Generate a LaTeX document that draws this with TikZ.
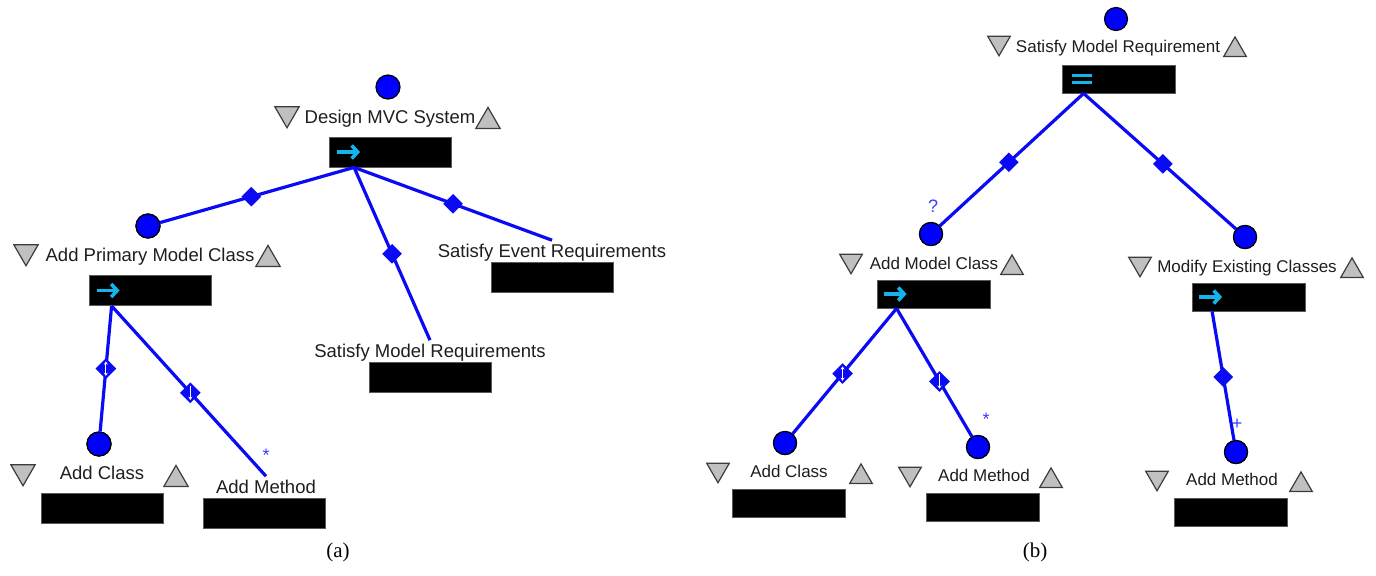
\documentclass[tikz,border=0pt]{standalone}
\usepackage{fontspec}
\setmainfont{Liberation Sans}
\newfontfamily\capfont{Liberation Serif}
\usetikzlibrary{shapes.geometric,arrows.meta}
\definecolor{edgeB}{RGB}{10,10,245}
\definecolor{nodeB}{RGB}{0,0,255}
\definecolor{triG}{RGB}{192,192,192}
\definecolor{triB}{RGB}{60,60,60}
\definecolor{cyanA}{RGB}{20,180,235}
\definecolor{txt}{RGB}{30,30,30}
\definecolor{lblB}{RGB}{60,60,255}
\begin{document}
\begin{tikzpicture}[x=0.5pt,y=-0.5pt,
 goal/.style={circle, fill=nodeB, draw=black, line width=0.6pt, minimum size=12pt, inner sep=0pt},
 goalb/.style={goal, minimum size=11.5pt},
 triup/.style={regular polygon, regular polygon sides=3, fill=triG, draw=triB, line width=0.6pt, inner sep=0pt, minimum size=14pt, anchor=south},
 tridn/.style={triup, shape border rotate=180},
 triupb/.style={triup, minimum size=13pt},
 tridnb/.style={tridn, minimum size=13pt},
 ta/.style={font=\fontsize{9.25}{11}\selectfont, text=txt, inner sep=1.5pt, anchor=base},
 tb/.style={font=\fontsize{8.5}{10}\selectfont, text=txt, inner sep=1.5pt, anchor=base},
 blka/.style={rectangle, fill=black, draw=black!65, line width=0.4pt, minimum width=61pt, minimum height=15pt, inner sep=0pt},
 blkb/.style={blka, minimum width=56.5pt, minimum height=14pt},
 edge/.style={draw=edgeB, line width=1.6pt},
 dia/.style={diamond, fill=edgeB, inner sep=0pt, minimum width=10.5pt, minimum height=10.5pt},
 warr/.style={draw=white, line width=0.5pt},
 carr/.style={draw=cyanA, line width=1.8pt, -{Straight Barb[length=3pt,width=6.5pt]}},
 eqs/.style={draw=cyanA, line width=1.4pt},
 mult/.style={text=lblB, font=\fontsize{9}{10}\selectfont, inner sep=0pt},
 capt/.style={font=\capfont\fontsize{10.5}{12}\selectfont, text=black},
]
\useasboundingbox (0,0) rectangle (1376,575);

% ================= panel (a) =================
% root
\node[tridn] (rAd) at (287,129) {};
\node[ta] (rAt) at (390,123) {Design MVC System};
\node[triup] (rAu) at (488,129) {};
\node[blka] (rAb) at (390.5,152) {};
\coordinate (jA) at ([xshift=12.5pt]rAb.south west);
% Add Primary Model Class
\node[tridn] (pAd) at (26,267) {};
\node[ta] (pAt) at (150,261) {Add Primary Model Class};
\node[triup] (pAu) at (268,267) {};
\node[blka] (pAb) at (150,290.5) {};
\coordinate (jB) at ([xshift=11.5pt]pAb.south west);
% Satisfy Model Requirements / Satisfy Event Requirements
\node[ta] (smA) at (430,357) {Satisfy Model Requirements};
\node[blka] (smAb) at (430.5,377) {};
\node[ta] (seA) at (552,257) {Satisfy Event Requirements};
\node[blka] (seAb) at (552,277) {};
% Add Class / Add Method
\node[tridn] (cAd) at (23,487) {};
\node[ta] (cAt) at (102,479) {Add Class};
\node[triup] (cAu) at (176,487) {};
\node[blka] (cAb) at (102,508) {};
\node[ta] (mAt) at (266,493) {Add Method};
\node[blka] (mAb) at (264,513) {};

% edges (a)
\node[goal] (gA) at (388,87) {};
\node[goal] (gP) at (148,226) {};
\node[goal] (gC) at (99,444) {};
\draw[edge] (jA) -- node[dia,pos=0.53] (dA1) {} (gP);
\draw[edge] (jA) -- node[dia,pos=0.5] (dA2) {} (smA.north);
\draw[edge] (jA) -- node[dia,pos=0.5] (dA3) {} (seA.north);
\draw[edge] (jB) -- node[dia,pos=0.5,minimum width=11pt,minimum height=11pt] (dA4) {} (gC);
\draw[edge] (jB) -- node[dia,pos=0.51,minimum width=11pt,minimum height=11pt] (dA5) {} (mAt.north);
\draw[warr,{Stealth[length=1.6pt,width=2pt]}-{Stealth[length=1.6pt,width=2pt]}] ([yshift=3.6pt]dA4.center) -- ([yshift=-3.6pt]dA4.center);
\draw[warr,-{Stealth[length=1.6pt,width=2pt]}] ([yshift=3.6pt]dA5.center) -- ([yshift=-3.6pt]dA5.center);
\node[goal] at (gP) {};
\node[goal] at (gC) {};
\node[mult] (sA) at (266,455) {*};
% cyan arrows
\draw[carr] ([xshift=4pt]rAb.west) -- ([xshift=15.5pt]rAb.west);
\draw[carr] ([xshift=4pt]pAb.west) -- ([xshift=15.5pt]pAb.west);
\node[capt] (capA) at (338,552) {(a)};

% ================= panel (b) =================
\node[tridnb] (rBd) at (999,57) {};
\node[tb] (rBt) at (1118,52) {Satisfy Model Requirement};
\node[triupb] (rBu) at (1235,57) {};
\node[blkb] (rBb) at (1118.5,79) {};
\coordinate (jR) at ([xshift=11pt]rBb.south west);
% Add Model Class
\node[tridnb] (aBd) at (851,275) {};
\node[tb] (aBt) at (934,269) {Add Model Class};
\node[triupb] (aBu) at (1012,275) {};
\node[blkb] (aBb) at (933.5,294) {};
\coordinate (jC) at ([xshift=10pt]aBb.south west);
% Modify Existing Classes
\node[tridnb] (xBd) at (1140,278) {};
\node[tb] (xBt) at (1247,272) {Modify Existing Classes};
\node[triupb] (xBu) at (1352,278) {};
\node[blkb] (xBb) at (1249,297) {};
\coordinate (jD) at ([xshift=10pt]xBb.south west);
% Add Class (b)
\node[tridnb] (cBd) at (718,484) {};
\node[tb] (cBt) at (789,477) {Add Class};
\node[triupb] (cBu) at (861,484) {};
\node[blkb] (cBb) at (789,503) {};
% Add Method (b, middle)
\node[tridnb] (mBd) at (910,488) {};
\node[tb] (mBt) at (984,481) {Add Method};
\node[triupb] (mBu) at (1051,488) {};
\node[blkb] (mBb) at (982.5,507) {};
% Add Method (b, right)
\node[tridnb] (nBd) at (1157,492) {};
\node[tb] (nBt) at (1232,485) {Add Method};
\node[triupb] (nBu) at (1301,492) {};
\node[blkb] (nBb) at (1231,512) {};

% goals (b)
\node[goalb] (gR) at (1116,19) {};
\node[goalb] (gAM) at (931,234) {};
\node[goalb] (gMX) at (1245,237) {};
\node[goalb] (gCB) at (785,443) {};
\node[goalb] (gMB) at (978,447) {};
\node[goalb] (gNB) at (1236,452) {};
% edges (b)
\draw[edge] (jR) -- node[dia,pos=0.52] (dB1) {} (gAM);
\draw[edge] (jR) -- node[dia,pos=0.52] (dB2) {} (gMX);
\draw[edge] (jC) -- node[dia,pos=0.52,minimum width=11pt,minimum height=11pt] (dB3) {} (gCB);
\draw[edge] (jC) -- node[dia,pos=0.57,minimum width=11pt,minimum height=11pt] (dB4) {} (gMB);
\draw[edge] (jD) -- node[dia,pos=0.51] (dB5) {} (gNB);
\draw[warr,{Stealth[length=1.6pt,width=2pt]}-{Stealth[length=1.6pt,width=2pt]}] ([yshift=3.6pt]dB3.center) -- ([yshift=-3.6pt]dB3.center);
\draw[warr,-{Stealth[length=1.6pt,width=2pt]}] ([yshift=3.6pt]dB4.center) -- ([yshift=-3.6pt]dB4.center);
\node[goalb] at (gAM) {};
\node[goalb] at (gMX) {};
\node[goalb] at (gCB) {};
\node[goalb] at (gMB) {};
\node[goalb] at (gNB) {};
\node[mult] (qB) at (933,206) {?};
\node[mult] (sB) at (986,419) {*};
\node[mult] (pB) at (1237,424) {+};
% cyan symbols
\draw[eqs] ([xshift=5pt,yshift=1.6pt]rBb.west) -- ([xshift=15pt,yshift=1.6pt]rBb.west);
\draw[eqs] ([xshift=5pt,yshift=-1.6pt]rBb.west) -- ([xshift=15pt,yshift=-1.6pt]rBb.west);
\draw[carr] ([xshift=3.5pt]aBb.west) -- ([xshift=15pt]aBb.west);
\draw[carr] ([xshift=3.5pt]xBb.west) -- ([xshift=15pt]xBb.west);
\node[capt] (capB) at (1035,552) {(b)};
\end{tikzpicture}
\end{document}
